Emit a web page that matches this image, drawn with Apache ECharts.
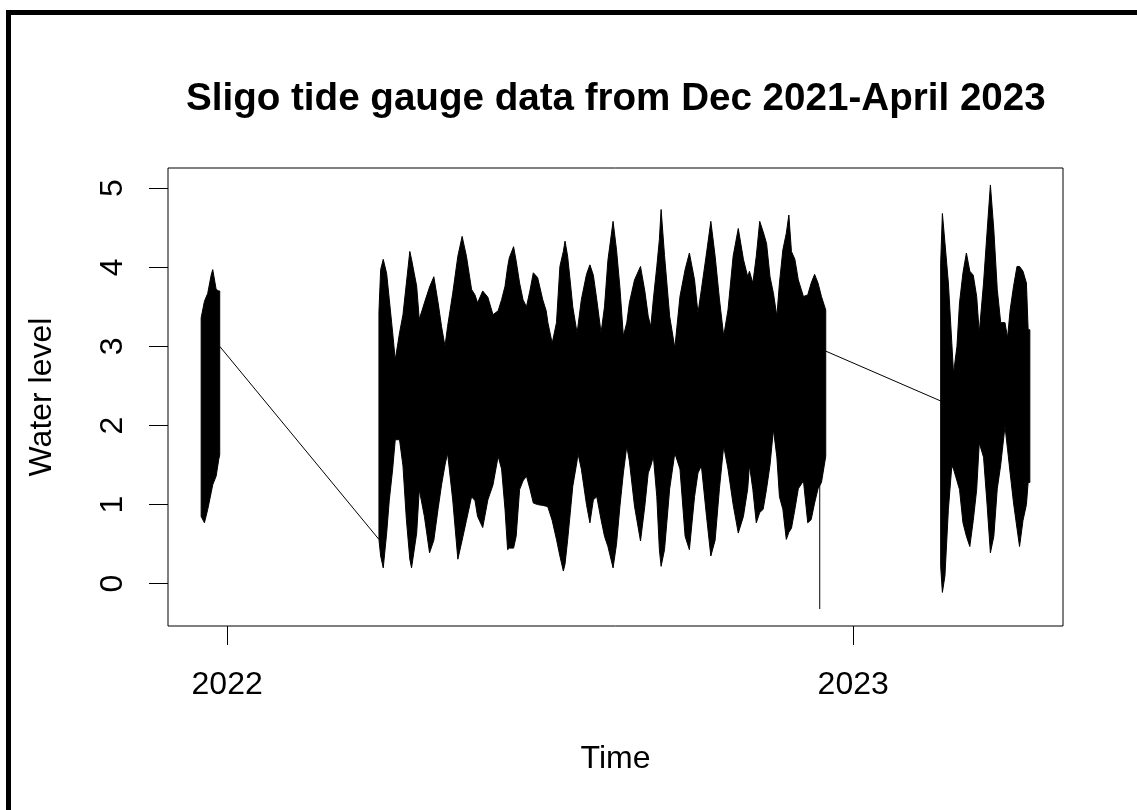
<!DOCTYPE html>
<html>
<head>
<meta charset="utf-8">
<script src="https://cdn.jsdelivr.net/npm/echarts@6/dist/echarts.min.js"></script>
<style>
html,body{margin:0;padding:0;background:#fff;}
#chart{width:1137px;height:810px;}
</style>
</head>
<body>
<div id="chart"></div>
<script>
// ---- Data (envelope of the tide record: daily highs / lows) ----
const titleText = 'Sligo tide gauge data from Dec 2021-April 2023';
const xAxisTitle = 'Time';
const yAxisTitle = 'Water level';

// Segment 1: Dec 2021
const seg1Dates = ['2021-12-16 20:00','2021-12-18 18:00','2021-12-20 16:00','2021-12-22 16:00','2021-12-23 14:00','2021-12-25 14:00','2021-12-27 02:00','2021-12-27 16:00'];
const seg1High  = [3.36,3.57,3.67,3.90,3.97,3.72,3.70,3.70];
const seg1Low   = [0.85,0.77,0.94,1.15,1.25,1.36,1.57,1.63];

// Segment 2: Mar 2022 - Dec 2022
const seg2Dates = ['2022-03-30 12:00','2022-03-31 12:00','2022-04-02','2022-04-04','2022-04-05 12:00','2022-04-07 12:00','2022-04-09','2022-04-11 12:00','2022-04-13 12:00','2022-04-15 12:00',
'2022-04-17 12:00','2022-04-18 12:00','2022-04-21 12:00','2022-04-23','2022-04-26','2022-04-29','2022-05-01 12:00','2022-05-04','2022-05-06','2022-05-08',
'2022-05-09 12:00','2022-05-12 12:00','2022-05-15 12:00','2022-05-18','2022-05-20 12:00','2022-05-23 12:00','2022-05-25 12:00','2022-05-27','2022-05-30','2022-06-02',
'2022-06-05','2022-06-08','2022-06-10','2022-06-12','2022-06-13 12:00','2022-06-14 12:00','2022-06-17','2022-06-18 12:00','2022-06-20 12:00','2022-06-22 12:00',
'2022-06-24 12:00','2022-06-26 12:00','2022-06-28 12:00','2022-07-01','2022-07-04','2022-07-06','2022-07-07','2022-07-09 12:00','2022-07-12','2022-07-14',
'2022-07-16','2022-07-17','2022-07-18 12:00','2022-07-20 12:00','2022-07-21 12:00','2022-07-24','2022-07-24 12:00','2022-07-26 12:00','2022-07-29 12:00','2022-07-31 12:00',
'2022-08-02 12:00','2022-08-04 12:00','2022-08-07','2022-08-09','2022-08-11','2022-08-14','2022-08-16','2022-08-18','2022-08-20','2022-08-22',
'2022-08-23 12:00','2022-08-26 12:00','2022-08-30','2022-09-01 12:00','2022-09-03 12:00','2022-09-05','2022-09-06 12:00','2022-09-08 12:00','2022-09-10','2022-09-11',
'2022-09-13','2022-09-16','2022-09-19','2022-09-22','2022-09-25','2022-09-27 12:00','2022-09-30 12:00','2022-10-02 12:00','2022-10-04 12:00','2022-10-07 12:00',
'2022-10-10','2022-10-12 12:00','2022-10-15','2022-10-17 12:00','2022-10-20','2022-10-23','2022-10-26','2022-10-29','2022-10-31 12:00','2022-11-01 12:00',
'2022-11-03 12:00','2022-11-05 12:00','2022-11-07 12:00','2022-11-09 12:00','2022-11-11 12:00','2022-11-13 12:00','2022-11-15 12:00','2022-11-17 12:00','2022-11-19','2022-11-21',
'2022-11-23','2022-11-24 12:00','2022-11-26','2022-11-28','2022-11-30','2022-12-03','2022-12-05 12:00','2022-12-07 12:00','2022-12-09 12:00','2022-12-11 12:00',
'2022-12-13 12:00','2022-12-16'];
const seg2High = [3.44,3.97,4.10,3.92,3.60,3.17,2.83,3.17,3.40,3.80,
4.20,4.10,3.76,3.34,3.55,3.75,3.88,3.55,3.25,3.00,
3.25,3.67,4.14,4.39,4.14,3.72,3.65,3.55,3.70,3.62,
3.40,3.45,3.59,3.76,4.00,4.12,4.26,4.08,3.80,3.59,
3.50,3.70,3.93,3.87,3.59,3.45,3.30,3.04,3.30,4.01,
4.20,4.33,4.14,3.72,3.50,3.17,3.25,3.59,3.91,4.03,
3.90,3.59,3.17,3.50,4.09,4.58,4.22,3.74,3.13,3.30,
3.55,3.84,4.01,3.70,3.38,3.25,3.60,4.01,4.35,4.73,
4.15,3.38,2.98,3.63,3.97,4.18,3.84,3.42,3.72,4.18,
4.58,4.14,3.60,3.13,3.46,4.14,4.49,4.10,3.88,3.95,
3.80,4.14,4.58,4.45,4.30,3.88,3.67,3.38,3.80,4.22,
4.43,4.66,4.20,4.10,3.84,3.63,3.65,3.80,3.91,3.80,
3.63,3.46];
const seg2Low = [0.56,0.35,0.20,0.64,1.05,1.45,1.82,1.82,1.49,0.81,
0.31,0.20,0.64,1.19,0.85,0.39,0.55,0.95,1.25,1.50,
1.65,1.06,0.31,0.55,0.80,1.10,1.05,0.85,0.71,1.06,
1.25,1.61,1.45,0.94,0.43,0.45,0.45,0.60,1.19,1.30,
1.36,1.20,1.02,1.00,0.99,0.98,0.97,0.80,0.56,0.35,
0.16,0.25,0.55,1.00,1.23,1.55,1.65,1.45,1.00,0.77,
1.06,1.10,0.81,0.60,0.47,0.20,0.50,0.98,1.40,1.74,
1.55,0.98,0.54,0.98,1.40,1.49,1.61,1.10,0.43,0.22,
0.43,1.20,1.65,1.45,0.60,0.43,1.10,1.40,1.49,0.85,
0.35,0.55,1.20,1.74,1.45,1.00,0.64,0.85,1.20,1.50,
1.19,0.77,0.90,0.94,1.20,1.50,1.95,1.60,1.10,0.94,
0.56,0.65,0.70,0.94,1.20,1.30,0.77,0.81,1.02,1.20,
1.28,1.61];

// Segment 3: Feb 2023 - Apr 2023
const seg3Dates = ['2023-02-21','2023-02-22','2023-02-23 12:00','2023-02-25 12:00','2023-02-27 12:00','2023-02-28 12:00','2023-03-02 12:00','2023-03-04','2023-03-06','2023-03-08',
'2023-03-10','2023-03-12','2023-03-14','2023-03-15 12:00','2023-03-18','2023-03-20','2023-03-22','2023-03-24','2023-03-26','2023-03-28',
'2023-03-30 12:00','2023-04-01','2023-04-02 12:00','2023-04-04 12:00','2023-04-06 12:00','2023-04-08','2023-04-10','2023-04-12','2023-04-13','2023-04-14'];
const seg3High = [4.05,4.68,4.31,3.80,3.04,2.66,3.00,3.55,3.93,4.18,
3.95,3.90,3.63,3.17,3.80,4.43,5.04,4.47,3.72,3.30,
3.30,3.11,3.46,3.76,4.01,4.01,3.95,3.80,3.21,3.21];
const seg3Low = [0.22,-0.11,0.10,0.94,1.49,1.45,1.30,1.19,0.77,0.60,
0.47,0.80,1.19,1.78,1.60,1.02,0.39,0.60,1.20,1.50,
1.99,1.70,1.40,1.02,0.70,0.47,0.80,1.00,1.28,1.28];

// Straight joins across the data gaps and the single low reading in December 2022
const gap1Dates = ['2021-12-27 16:00','2022-03-30 12:00'];
const gap1Values = [3.00,0.56];
const gap2Dates = ['2022-12-16','2023-02-21'];
const gap2Values = [2.94,2.31];
const spikeDates = ['2022-12-12 12:00','2022-12-12 12:00'];
const spikeValues = [1.28,-0.32];

// Axis ticks
const xTickDates = ['2022-01-01','2023-01-01'];
const yTicks = [0,1,2,3,4,5];

// ---- Build chart ----
const P = s => new Date(s.length === 10 ? s + 'T00:00:00' : s.replace(' ', 'T') + ':00').getTime();
const FONT = '"Liberation Sans", Arial, Helvetica, sans-serif';

const segments = [
  {d: seg1Dates, hi: seg1High, lo: seg1Low},
  {d: seg2Dates, hi: seg2High, lo: seg2Low},
  {d: seg3Dates, hi: seg3High, lo: seg3Low}
];

// R-style axis extents: data range extended by 4% on each side
let allT = [], allV = [];
segments.forEach(s => { s.d.forEach(d => allT.push(P(d))); allV.push(...s.hi, ...s.lo); });
allV.push(...spikeValues, ...gap1Values, ...gap2Values);
const tMin = Math.min(...allT), tMax = Math.max(...allT);
const vMin = Math.min(...allV), vMax = Math.max(...allV);
const xMin = tMin - 0.04 * (tMax - tMin), xMax = tMax + 0.04 * (tMax - tMin);
const yMin = vMin - 0.04 * (vMax - vMin), yMax = vMax + 0.04 * (vMax - vMin);

const series = [];
// Tidal envelope of each recorded period: filled band between lows and highs
segments.forEach((s, i) => {
  series.push({
    type: 'custom',
    name: 'Water level ' + (i + 1),
    data: s.d.map((d, j) => [P(d), s.lo[j], s.hi[j]]),
    encode: {x: 0, y: [1, 2]},
    silent: true,
    renderItem: (params, api) => {
      if (params.dataIndex !== 0) return null;
      const pts = [];
      for (let j = 0; j < s.d.length; j++) pts.push(api.coord([P(s.d[j]), s.hi[j]]));
      for (let j = s.d.length - 1; j >= 0; j--) pts.push(api.coord([P(s.d[j]), s.lo[j]]));
      return {
        type: 'polygon',
        shape: {points: pts},
        style: {fill: '#000', stroke: '#000', lineWidth: 1}
      };
    }
  });
});
[[gap1Dates, gap1Values], [gap2Dates, gap2Values], [spikeDates, spikeValues]].forEach(([d, v]) => {
  series.push({
    type: 'line', data: d.map((x, j) => [P(x), v[j]]),
    symbol: 'none', lineStyle: {color: '#000', width: 1}, silent: true, z: 3
  });
});

const xTickVals = xTickDates.map(P);

const option = {
  animation: false,
  backgroundColor: '#fff',
  title: {
    text: titleText, left: 186, top: 80, padding: 0,
    textStyle: {fontFamily: FONT, fontSize: 38.6, fontWeight: 'bold', color: '#000'}
  },
  grid: {
    left: 168, right: 74, top: 168, bottom: 184,
    show: true, borderColor: '#000', borderWidth: 1, backgroundColor: 'transparent',
    containLabel: false, outerBoundsMode: 'none'
  },
  xAxis: {
    type: 'value', min: xMin, max: xMax, scale: true,
    splitLine: {show: false},
    axisLine: {show: false, onZero: false},
    axisTick: {show: true, length: 19, lineStyle: {color: '#000', width: 1}, customValues: xTickVals},
    axisLabel: {
      customValues: xTickVals, formatter: v => String(new Date(v).getFullYear()),
      fontFamily: FONT, fontSize: 32, color: '#000', margin: 43, hideOverlap: false
    },
    name: xAxisTitle, nameLocation: 'middle', nameGap: 117,
    nameTextStyle: {fontFamily: FONT, fontSize: 32, color: '#000'}
  },
  yAxis: {
    type: 'value', min: yMin, max: yMax,
    splitLine: {show: false},
    axisLine: {show: false, onZero: false},
    axisTick: {show: true, length: 19, lineStyle: {color: '#000', width: 1}, customValues: yTicks},
    axisLabel: {
      customValues: yTicks, rotate: 90, fontFamily: FONT, fontSize: 32, color: '#000', margin: 39
    },
    name: yAxisTitle, nameLocation: 'middle', nameGap: 110,
    nameTextStyle: {fontFamily: FONT, fontSize: 32, color: '#000'}
  },
  graphic: [{
    type: 'rect', silent: true, z: 100,
    shape: {x: 8.5, y: 12.5, width: 1300, height: 1000},
    style: {fill: 'none', stroke: '#000', lineWidth: 5}
  }],
  series: series
};

const chart = echarts.init(document.getElementById('chart'), null, {renderer: 'canvas'});
chart.setOption(option);
</script>
</body>
</html>
